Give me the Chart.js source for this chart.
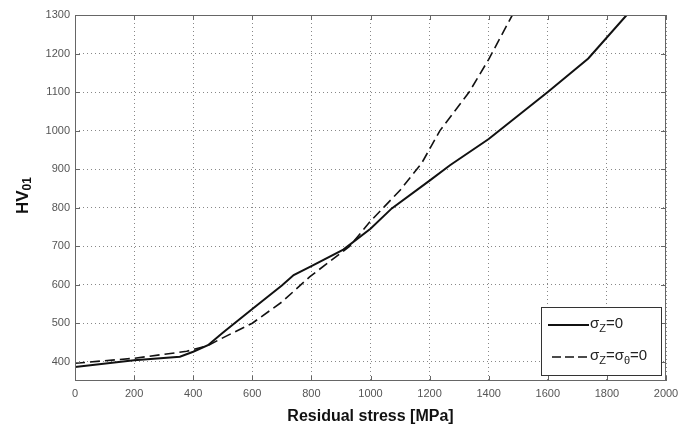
<!DOCTYPE html>
<html>
<head>
<meta charset="utf-8">
<script src="https://cdn.jsdelivr.net/npm/chart.js@4.4.1/dist/chart.umd.min.js"></script>
<style>
  html, body { margin: 0; padding: 0; background: #fff; }
  #wrap { width: 679px; height: 426px; }
</style>
</head>
<body>
<div id="wrap"><canvas id="grafico" width="679" height="426"></canvas></div>
<script>
// Curva sigma_z = 0 (linha cheia)
const stressSolid = [0, 200, 355, 400, 450, 500, 600, 700, 740, 800, 908, 1000, 1072, 1200, 1269, 1400, 1600, 1737, 1867, 2000];
const hvSolid     = [386, 404, 413, 426, 443, 475, 537, 598, 625, 648, 691, 745, 798, 870, 910, 978, 1100, 1187, 1300, 1420];

// Curva sigma_z = sigma_theta = 0 (tracejada)
const stressDashed = [0, 200, 378, 450, 500, 600, 700, 795, 930, 1000, 1100, 1173, 1235, 1334, 1400, 1480, 1520];
const hvDashed     = [396, 409, 427, 442, 462, 500, 555, 621, 700, 765, 845, 915, 1000, 1100, 1185, 1300, 1360];

// Rótulos dos eixos
const xTicks = [0, 200, 400, 600, 800, 1000, 1200, 1400, 1600, 1800, 2000];
const yTicks = [400, 500, 600, 700, 800, 900, 1000, 1100, 1200, 1300];

const toPoints = (xs, ys) => xs.map((x, i) => ({ x: x, y: ys[i] }));

// Desenha texto com subscritos: partes [texto, subscrito?]
function drawParts(ctx, parts, x, y, size) {
    parts.forEach(([t, sub]) => {
        ctx.font = (sub ? Math.round(size * 0.7) : size) + "px 'Liberation Sans', Arial, sans-serif";
        ctx.fillText(t, x, sub ? y + size * 0.3 : y);
        x += ctx.measureText(t).width;
    });
    return x;
}

// Moldura, marcas internas, título do eixo Y e legenda
const molduraPlugin = {
    id: "moldura",
    afterDraw(chart) {
        const { ctx, chartArea: a, scales } = chart;
        ctx.save();
        ctx.strokeStyle = "#666";
        ctx.lineWidth = 1;
        ctx.strokeRect(a.left + 0.5, a.top + 0.5, a.right - a.left - 1, a.bottom - a.top - 1);
        ctx.beginPath();
        xTicks.forEach((v) => {
            const px = Math.round(scales.x.getPixelForValue(v)) + 0.5;
            ctx.moveTo(px, a.top); ctx.lineTo(px, a.top + 5);
            ctx.moveTo(px, a.bottom); ctx.lineTo(px, a.bottom - 5);
        });
        yTicks.forEach((v) => {
            const py = Math.round(scales.y.getPixelForValue(v)) + 0.5;
            ctx.moveTo(a.left, py); ctx.lineTo(a.left + 5, py);
            ctx.moveTo(a.right, py); ctx.lineTo(a.right - 5, py);
        });
        ctx.stroke();

        // Título do eixo Y: HV01
        ctx.save();
        ctx.translate(23, 214);
        ctx.rotate(-Math.PI / 2);
        ctx.fillStyle = "#111";
        ctx.textBaseline = "middle";
        ctx.font = "bold 17px 'Liberation Sans', Arial, sans-serif";
        ctx.fillText("HV", 0, 0);
        const w = ctx.measureText("HV").width;
        ctx.font = "bold 12px 'Liberation Sans', Arial, sans-serif";
        ctx.fillText("01", w, 5);
        ctx.restore();

        // Legenda
        const lx = 541, ly = 307, lw = 120, lh = 68;
        ctx.fillStyle = "#fff";
        ctx.fillRect(lx, ly, lw, lh);
        ctx.strokeStyle = "#333";
        ctx.strokeRect(lx + 0.5, ly + 0.5, lw, lh);
        ctx.strokeStyle = "#111";
        ctx.lineWidth = 2;
        ctx.beginPath(); ctx.moveTo(548, 325); ctx.lineTo(589, 325); ctx.stroke();
        ctx.lineWidth = 1.6;
        ctx.setLineDash([9, 4]);
        ctx.beginPath(); ctx.moveTo(552, 357); ctx.lineTo(589, 357); ctx.stroke();
        ctx.setLineDash([]);
        ctx.fillStyle = "#222";
        ctx.textBaseline = "middle";
        drawParts(ctx, [["σ", false], ["Z", true], ["=0", false]], 590, 324, 15);
        drawParts(ctx, [["σ", false], ["Z", true], ["=σ", false], ["θ", true], ["=0", false]], 590, 356, 15);
        ctx.restore();
    }
};

const fonteTicks = { family: "'Liberation Sans', Arial, sans-serif", size: 11 };

new Chart(document.getElementById("grafico").getContext("2d"), {
    type: "line",
    data: {
        datasets: [
            {
                label: "σz=0",
                data: toPoints(stressSolid, hvSolid),
                borderColor: "#111",
                borderWidth: 2,
                pointRadius: 0,
                tension: 0,
                fill: false,
            },
            {
                label: "σz=σθ=0",
                data: toPoints(stressDashed, hvDashed),
                borderColor: "#111",
                borderWidth: 1.6,
                borderDash: [10, 5],
                pointRadius: 0,
                tension: 0,
                fill: false,
            },
        ],
    },
    options: {
        responsive: false,
        animation: false,
        layout: { padding: { top: 15, right: 13, left: 0, bottom: 0 } },
        plugins: {
            legend: { display: false },
            tooltip: { enabled: false },
        },
        scales: {
            x: {
                type: "linear",
                min: 0,
                max: 2000,
                afterBuildTicks: (s) => { s.ticks = xTicks.map((v) => ({ value: v })); },
                afterFit: (s) => { s.height = 45; s.paddingLeft = 0; s.paddingRight = 0; },
                ticks: { color: "#555", font: fonteTicks, padding: 6, maxRotation: 0, callback: (v) => String(v) },
                grid: { color: "#888", lineWidth: 1, drawTicks: false },
                border: { display: false, dash: [1, 3] },
                title: {
                    display: true,
                    text: "Residual stress [MPa]",
                    color: "#111",
                    font: { family: "'Liberation Sans', Arial, sans-serif", size: 16, weight: "bold" },
                    padding: { top: 8, bottom: 0 },
                },
            },
            y: {
                type: "linear",
                min: 350,
                max: 1300,
                afterBuildTicks: (s) => { s.ticks = yTicks.map((v) => ({ value: v })); },
                afterFit: (s) => { s.width = 75; s.paddingTop = 0; s.paddingBottom = 0; },
                ticks: { color: "#555", font: fonteTicks, padding: 5, callback: (v) => String(v) },
                grid: { color: "#888", lineWidth: 1, drawTicks: false },
                border: { display: false, dash: [1, 3] },
            },
        },
    },
    plugins: [molduraPlugin],
});
</script>
</body>
</html>
